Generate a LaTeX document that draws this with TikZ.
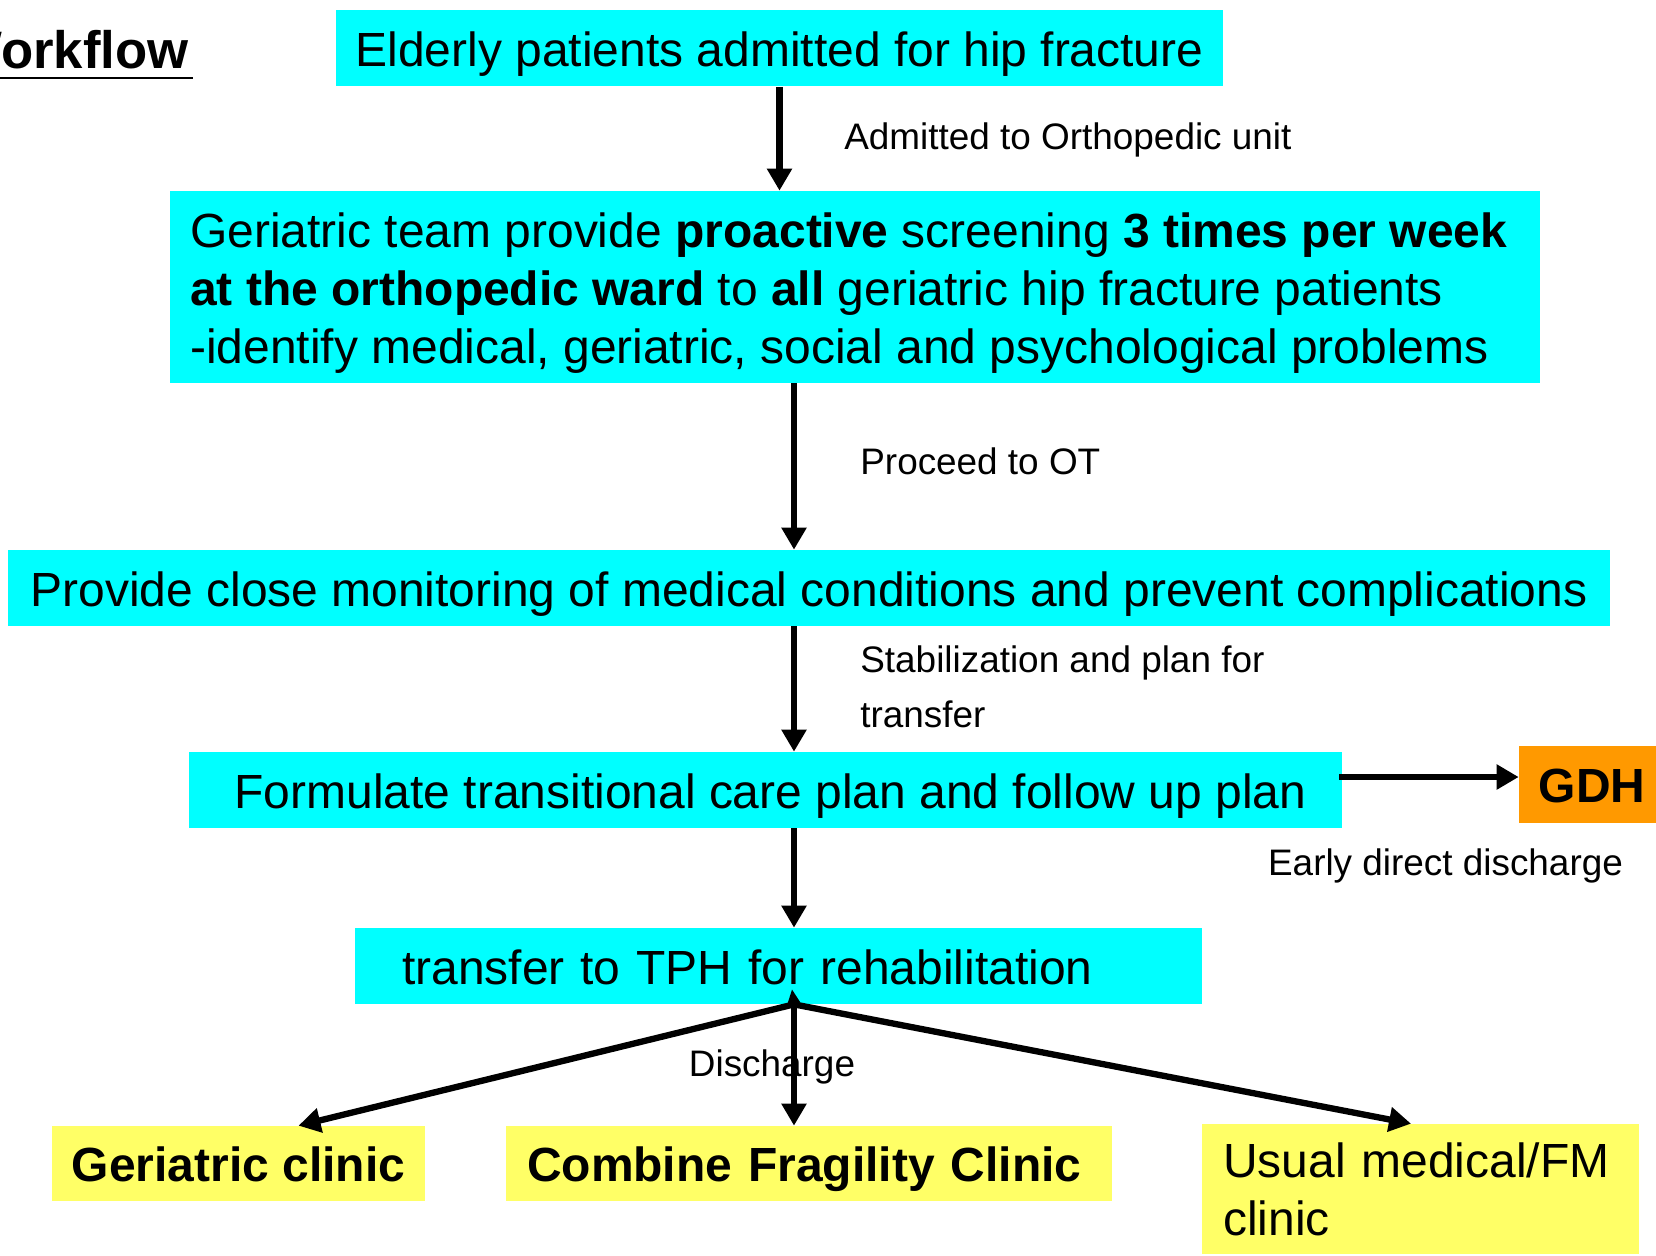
\documentclass[tikz,border=0pt]{standalone}
\usepackage{fontspec}
\setmainfont{Liberation Sans}
\usepackage{xcolor}
\usepackage{tikz}
\usetikzlibrary{calc, arrows.meta}

\definecolor{boxcyan}{HTML}{00FFFF}
\definecolor{boxyellow}{HTML}{FFFF66}
\definecolor{boxorange}{HTML}{FF9900}

\newcommand{\mainsize}{\fontsize{27.3pt}{32.9pt}\selectfont}
\newcommand{\labelsize}{\fontsize{21pt}{31.3pt}\selectfont}

\tikzset{
	box/.style = {fill = boxcyan, inner sep = 0pt, minimum height = 1.52cm, font = \mainsize},
	oneline/.style = {text height = 21pt, text depth = 0pt},
	clinic/.style = {box, fill = boxyellow, minimum height = 1.5cm},
	lbl/.style = {inner sep = 0pt, font = \labelsize},
	flow/.style = {line width = 3.6pt, -{Triangle[length = 12.5pt, width = 13.6pt]}}
}

\begin{document}
\begin{tikzpicture}[x = 0.02cm, y = -0.02cm]
	\useasboundingbox (0,0) rectangle (1656,1255);
	\clip (0,0) rectangle (1656,1255);

	\node [anchor = base east, inner sep = 0pt, font = \fontsize{30pt}{36pt}\selectfont\bfseries] (title) at (189,68) {Workflow};
	\draw [line width = 1.2pt] ([yshift = -5.7pt]title.base west) -- ([yshift = -5.7pt, xshift = 2pt]title.base east);

	\node [box, oneline, minimum width = 17.74cm, minimum height = 1.54cm] (admit) at (779.5,48) {Elderly patients admitted for hip fracture};
	\node [box, minimum width = 27.4cm, minimum height = 3.84cm, align = left] (screen) at (855,287)
		{\rule{0pt}{27pt}Geriatric team provide \textbf{proactive} screening \textbf{3 times per week}\hspace{0.25cm}\mbox{}\\
		\textbf{at the orthopedic ward} to \textbf{all} geriatric hip fracture patients\\
		-identify medical, geriatric, social and psychological problems};
	\node [box, oneline, minimum width = 32.04cm] (monitor) at (809,588) {Provide close monitoring of medical conditions and prevent complications};
	\node [box, oneline, minimum width = 23.06cm] (plan) at (765.5,790) {\hspace{0.2cm}Formulate transitional care plan and follow up plan};
	\node [box, oneline, fill = boxorange, minimum width = 2.92cm, minimum height = 1.54cm, font = \mainsize\bfseries] (gdh) at (1592,784.5) {GDH};
	\node [box, oneline, inner xsep = 0.94cm, text width = 15.06cm, align = left] (tph) at (778.5,966) {transfer to TPH for rehabilitation};

	\node [clinic, oneline, minimum width = 7.46cm, font = \mainsize\bfseries] (geri) at (238.5,1163.5) {Geriatric clinic};
	\node [clinic, oneline, inner xsep = 0.42cm, text width = 11.28cm, align = left, font = \mainsize\bfseries] (fragile) at (809,1163.5) {Combine Fragility Clinic};
	\node [clinic, minimum height = 2.6cm, inner xsep = 0.42cm, text width = 7.9cm, align = left] (usual) at (1420.5,1189) {Usual medical/FM\\clinic};

	\node [lbl, anchor = west] (ortho) at (844,140) {Admitted to Orthopedic unit};
	\node [lbl, anchor = west] (ot) at (860,461) {Proceed to OT};
	\node [lbl, anchor = west, align = left] (stab) at (860,686.5) {Stabilization and plan for\\transfer};
	\node [lbl] (early) at (1445.5,866) {Early direct discharge};
	\node [lbl] (dis) at (772,1067) {Discharge};

	\coordinate (spine) at (794,0);
	\coordinate (apex) at (tph.south -| spine);

	\draw [flow] (admit.south) -- (admit.south |- screen.north);
	\draw [flow] (screen.south -| spine) -- (monitor.north -| spine);
	\draw [flow] (monitor.south -| spine) -- (plan.north -| spine);
	\draw [flow] (plan.south -| spine) -- (tph.north -| spine);
	\draw [flow] ([xshift = -0.06cm, yshift = 0.26cm]plan.east) -- ([yshift = 0.26cm]plan.east -| gdh.west);

	\draw [-{Triangle[length = 8pt, width = 7pt]}, line width = 1.5pt] (apex) -- ++(-2,-15);
	\draw [flow] (apex) -- ([xshift = 1.2cm]geri.north);
	\draw [flow] (apex) -- (fragile.north -| spine);
	\draw [flow] (apex) -- ([xshift = -0.19cm]usual.north);
\end{tikzpicture}
\end{document}
